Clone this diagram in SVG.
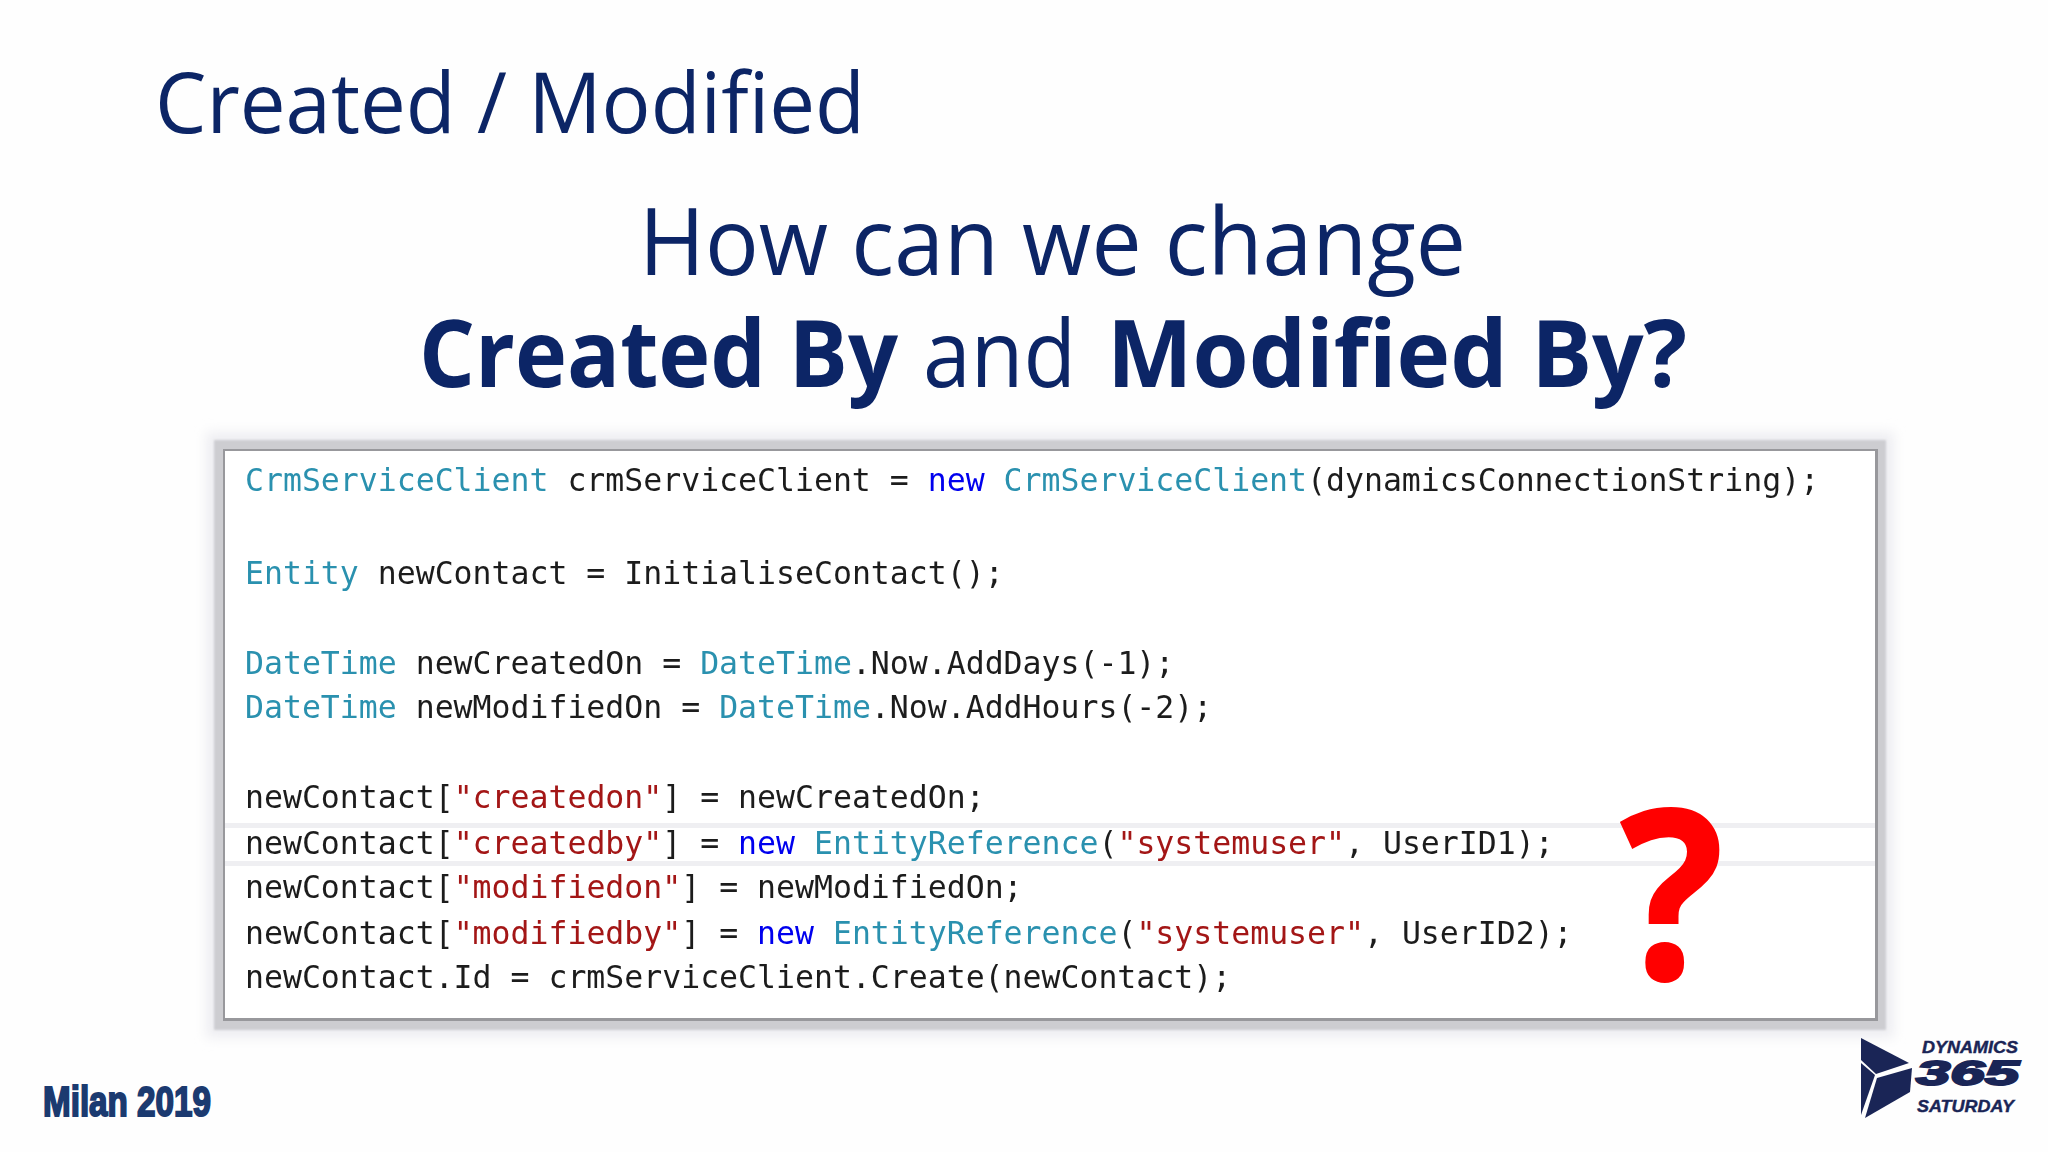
<svg xmlns="http://www.w3.org/2000/svg" width="2048" height="1152" viewBox="0 0 2048 1152">
<style>
.h{font-family:"Open Sans","Noto Sans",sans-serif;fill:#0c2566}
.b{font-weight:700}
.c{font-family:"DejaVu Sans Mono","Liberation Mono",monospace;font-size:31.5px;fill:#1c1c1c;white-space:pre}
.t{fill:#2b91af}.k{fill:#0000ee}.s{fill:#a31515}
.l{font-family:"Liberation Sans",Arial,sans-serif;font-weight:700;font-style:italic;fill:#1a2556;stroke:#1a2556;stroke-width:.4}
</style>
<defs>
<filter id="glow" x="-5%" y="-10%" width="110%" height="120%"><feGaussianBlur stdDeviation="6"/></filter>
<filter id="edge" x="-2%" y="-4%" width="104%" height="108%"><feGaussianBlur stdDeviation="1.2"/></filter>
<filter id="soft" x="-2%" y="-10%" width="104%" height="120%"><feGaussianBlur stdDeviation="0.45"/></filter>
</defs>
<rect width="2048" height="1152" fill="#fefefe"/>
<text class="h" x="155" y="133" font-size="84" textLength="710" lengthAdjust="spacingAndGlyphs">Created / Modified</text>
<text class="h" x="639" y="275" font-size="93" textLength="827" lengthAdjust="spacingAndGlyphs">How can we change</text>
<text class="h b" x="419" y="387" font-size="93" textLength="479" lengthAdjust="spacingAndGlyphs">Created By</text>
<text class="h" x="923" y="387" font-size="93" textLength="153" lengthAdjust="spacingAndGlyphs">and</text>
<text class="h b" x="1107" y="387" font-size="93" textLength="580" lengthAdjust="spacingAndGlyphs">Modified By?</text>
<g id="code-panel">
<rect x="206" y="432" width="1688" height="606" fill="#eeeef2" filter="url(#glow)"/>
<rect x="214" y="440" width="1672" height="590" fill="#cdcdd1" filter="url(#edge)"/>
<rect x="223" y="449" width="1655" height="572" fill="#98989c"/>
<rect x="225" y="451" width="1650" height="567" fill="#ffffff"/>
<rect x="225" y="823" width="1650" height="5" fill="#efeff2"/>
<rect x="225" y="861" width="1650" height="5" fill="#efeff2"/>
<g filter="url(#soft)">
<text class="c" x="245" y="491"><tspan class="t">CrmServiceClient</tspan> crmServiceClient = <tspan class="k">new</tspan> <tspan class="t">CrmServiceClient</tspan>(dynamicsConnectionString);</text>
<text class="c" x="245" y="584"><tspan class="t">Entity</tspan> newContact = InitialiseContact();</text>
<text class="c" x="245" y="674"><tspan class="t">DateTime</tspan> newCreatedOn = <tspan class="t">DateTime</tspan>.Now.AddDays(-1);</text>
<text class="c" x="245" y="718"><tspan class="t">DateTime</tspan> newModifiedOn = <tspan class="t">DateTime</tspan>.Now.AddHours(-2);</text>
<text class="c" x="245" y="808">newContact[<tspan class="s">"createdon"</tspan>] = newCreatedOn;</text>
<text class="c" x="245" y="854">newContact[<tspan class="s">"createdby"</tspan>] = <tspan class="k">new</tspan> <tspan class="t">EntityReference</tspan>(<tspan class="s">"systemuser"</tspan>, UserID1);</text>
<text class="c" x="245" y="898">newContact[<tspan class="s">"modifiedon"</tspan>] = newModifiedOn;</text>
<text class="c" x="245" y="944">newContact[<tspan class="s">"modifiedby"</tspan>] = <tspan class="k">new</tspan> <tspan class="t">EntityReference</tspan>(<tspan class="s">"systemuser"</tspan>, UserID2);</text>
<text class="c" x="245" y="988">newContact.Id = crmServiceClient.Create(newContact);</text>
</g>
</g>
<text transform="translate(1672 979) scale(.92 1)" font-family="'Open Sans','Noto Sans',sans-serif" font-weight="700" font-size="235" fill="#ff0000" stroke="#ff0000" stroke-width="2" text-anchor="middle">?</text>
<text x="43" y="1116" font-family="'Liberation Sans',Arial,sans-serif" font-weight="700" font-size="43" fill="#1b3a70" stroke="#1b3a70" stroke-width="2" textLength="168" lengthAdjust="spacingAndGlyphs">Milan 2019</text>
<g id="logo">
<polygon points="1861,1038 1909,1063 1876,1074 1861,1060" fill="#1a2556"/>
<polygon points="1861,1063 1875,1075 1861,1115" fill="#1a2556"/>
<polygon points="1912,1068 1910,1092 1865,1118 1877,1078" fill="#1a2556"/>
<text class="l" x="1922" y="1053" font-size="16.5" textLength="96" lengthAdjust="spacingAndGlyphs">DYNAMICS</text>
<text class="l" style="stroke-width:2" x="1916" y="1085" font-size="35" textLength="103" lengthAdjust="spacingAndGlyphs">365</text>
<text class="l" x="1917" y="1112" font-size="16.5" textLength="97" lengthAdjust="spacingAndGlyphs">SATURDAY</text>
</g>
</svg>
